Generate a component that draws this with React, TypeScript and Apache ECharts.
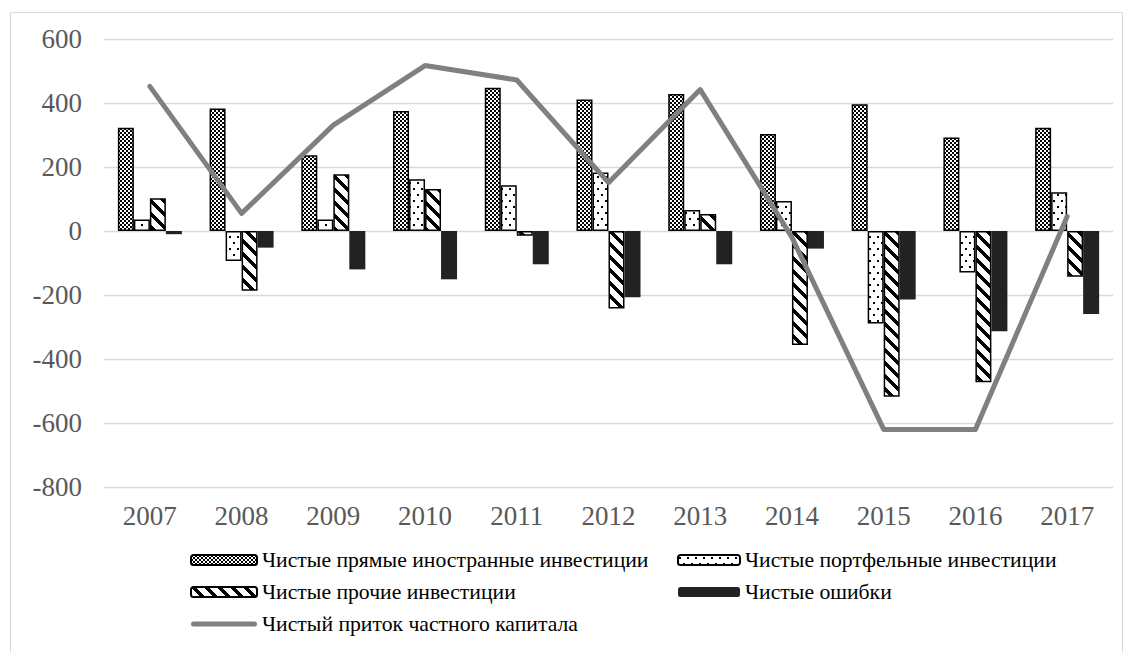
import React, { useEffect, useRef } from "react";
import * as echarts from "echarts";

const years = ["2007", "2008", "2009", "2010", "2011", "2012", "2013", "2014", "2015", "2016", "2017"];
const fdi = [323, 383, 237, 375, 448, 411, 428, 303, 396, 292, 323];
const portfolio = [36, -94, 36, 162, 143, 183, 66, 94, -289, -130, 121];
const other = [102, -187, 177, 131, -15, -242, 53, -356, -518, -473, -143];
const errors = [-10, -52, -120, -151, -104, -207, -104, -55, -214, -313, -259];
const privateFlow = [452, 55, 331, 517, 472, 151, 442, -20, -620, -620, 45];

const names = [
  "Чистые прямые иностранные инвестиции",
  "Чистые портфельные инвестиции",
  "Чистые прочие инвестиции",
  "Чистые ошибки",
  "Чистый приток частного капитала",
];

const SERIF = "Liberation Serif";

function makePattern(size: [number, number], draw: (x: number, y: number) => boolean) {
  const c = document.createElement("canvas");
  c.width = size[0];
  c.height = size[1];
  const ctx = c.getContext("2d")!;
  ctx.fillStyle = "#ffffff";
  ctx.fillRect(0, 0, size[0], size[1]);
  ctx.fillStyle = "#000000";
  for (let y = 0; y < size[1]; y++) {
    for (let x = 0; x < size[0]; x++) {
      if (draw(x, y)) ctx.fillRect(x, y, 1, 1);
    }
  }
  return {
    image: c.toDataURL(),
    imageWidth: size[0],
    imageHeight: size[1],
    repeat: "repeat",
  } as any;
}

const LINE_ICON =
  "path://M0,0L0,0ZM66,10L66,10ZM2.5,2.5L63.5,2.5A2.5,2.5,0,0,1,63.5,7.5L2.5,7.5A2.5,2.5,0,0,1,2.5,2.5Z";

export default function App() {
  const ref = useRef<HTMLDivElement>(null);
  useEffect(() => {
    if (!ref.current) return;
    const chart = echarts.init(ref.current, null, { renderer: "svg" });
    const checker = makePattern([4, 4], (x, y) => ((Math.floor(x / 2) + Math.floor(y / 2)) % 2) === 0);
    const dots = makePattern([8, 12], (x, y) =>
      (x >= 1 && x < 3 && y >= 2 && y < 4) || (x >= 5 && x < 7 && y >= 8 && y < 10)
    );
    const stripes = makePattern([13, 13], (x, y) => ((x - y + 26) % 13) < 5);

    const barBase = {
      type: "bar" as const,
      barWidth: 16,
      barGap: "0%",
    };

    const legendText = { fontSize: 21.7, color: "#000", fontFamily: SERIF };

    chart.setOption({
      animation: false,
      backgroundColor: "#ffffff",
      textStyle: { fontFamily: SERIF },
      graphic: [
        {
          type: "rect",
          shape: { x: 10.5, y: 12.5, width: 1112, height: 660 },
          style: { fill: "none", stroke: "#d9d9d9", lineWidth: 1 },
          silent: true,
        },
      ],
      grid: { left: 104, right: 21, top: 39, bottom: 165, containLabel: false },
      xAxis: {
        type: "category",
        data: years,
        axisLine: { show: false, onZero: false },
        axisTick: { show: false },
        axisLabel: { color: "#595959", fontSize: 27, fontFamily: SERIF, margin: 15 },
      },
      yAxis: {
        type: "value",
        min: -800,
        max: 600,
        interval: 200,
        axisLine: { show: false },
        axisTick: { show: false },
        axisLabel: { color: "#595959", fontSize: 27, fontFamily: SERIF, margin: 22 },
        splitLine: { lineStyle: { color: "#d9d9d9", width: 1.3 } },
      },
      legend: [
        {
          orient: "vertical",
          left: 185,
          top: 544,
          itemWidth: 66,
          itemHeight: 10,
          itemGap: 10,
          textStyle: legendText,
          data: [names[0], names[2], { name: names[4], icon: LINE_ICON }],
        },
        {
          orient: "vertical",
          left: 672,
          top: 544,
          itemWidth: 62,
          itemHeight: 10,
          itemGap: 10,
          textStyle: legendText,
          data: [names[1], names[3]],
        },
      ],
      series: [
        {
          ...barBase,
          name: names[0],
          data: fdi,
          itemStyle: { color: checker, borderColor: "#000", borderWidth: 1.5 },
        },
        {
          ...barBase,
          name: names[1],
          data: portfolio,
          itemStyle: { color: dots, borderColor: "#000", borderWidth: 1.5 },
        },
        {
          ...barBase,
          name: names[2],
          data: other,
          itemStyle: { color: stripes, borderColor: "#000", borderWidth: 1.5 },
        },
        {
          ...barBase,
          name: names[3],
          data: errors,
          itemStyle: { color: "#222222", borderColor: "#222222", borderWidth: 0 },
        },
        {
          type: "line",
          name: names[4],
          data: privateFlow,
          symbol: "none",
          z: 5,
          lineStyle: { color: "#808080", width: 5, cap: "round", join: "round" },
          itemStyle: { color: "#808080" },
        },
      ],
    });
    return () => chart.dispose();
  }, []);
  return (
    <div
      ref={ref}
      style={{ position: "absolute", left: 0, top: 0, width: 1134, height: 652 }}
    />
  );
}
